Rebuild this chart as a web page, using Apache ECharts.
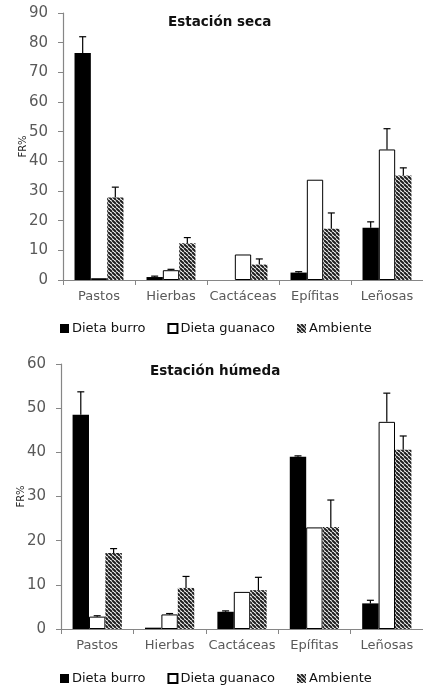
<!DOCTYPE html>
<html><head><meta charset="utf-8">
<script src="https://cdn.jsdelivr.net/npm/echarts@6/dist/echarts.min.js"></script>
<style>html,body{margin:0;padding:0;background:#fff}#c{width:423px;height:686px}</style>
</head><body><div id="c"></div>
<script>
const categories = ['Pastos', 'Hierbas', 'Cactáceas', 'Epífitas', 'Leñosas'];
const seriesNames = ['Dieta burro', 'Dieta guanaco', 'Ambiente'];
const yTicksSeca = { max: 90, interval: 10 };
const yTicksHumeda = { max: 60, interval: 10 };

// Estación seca
const burroSeca = [76.5, 1.0, 0, 2.5, 17.6];
const burroSecaErr = [5.5, 0.3, 0, 0.3, 2.0];
const guanacoSeca = [0.6, 3.3, 8.6, 33.8, 44.0];
const guanacoSecaErr = [0, 0.3, 0, 0, 7.0];
const ambienteSeca = [27.8, 12.4, 5.2, 17.3, 35.2];
const ambienteSecaErr = [3.5, 1.9, 1.9, 5.3, 2.6];

// Estación húmeda
const burroHum = [48.5, 0.3, 3.9, 39.0, 5.8];
const burroHumErr = [5.2, 0, 0.2, 0.2, 0.7];
const guanacoHum = [2.8, 3.3, 8.4, 23.0, 46.9];
const guanacoHumErr = [0.2, 0.2, 0, 0, 6.5];
const ambienteHum = [17.2, 9.3, 8.8, 23.1, 40.6];
const ambienteHumErr = [1.0, 2.6, 2.9, 6.1, 3.1];

const FONT = 'DejaVu Sans';
const AXIS_COLOR = '#868686';
const LABEL_COLOR = '#595959';
const CAT_GAP = 0.32;

function makeHatch() {
  const s = 4;
  const c = document.createElement('canvas');
  c.width = s; c.height = s;
  const g = c.getContext('2d');
  g.fillStyle = '#ffffff'; g.fillRect(0, 0, s, s);
  g.strokeStyle = '#1e1e1e'; g.lineWidth = 2;
  g.beginPath();
  for (let k = -1; k <= 1; k++) { g.moveTo(k * s, 0); g.lineTo(k * s + s, s); }
  g.stroke();
  return c;
}
const hatch = { image: makeHatch(), repeat: 'repeat' };

const styles = [
  { color: '#000000' },
  { color: '#ffffff', borderColor: '#000000', borderWidth: 1 },
  { color: hatch }
];

function errSeries(gridIdx, vals, errs, pos) {
  return {
    type: 'custom', xAxisIndex: gridIdx, yAxisIndex: gridIdx, z: 5,
    silent: true,
    data: vals.map((v, i) => [i, v, errs[i]]),
    renderItem: function (params, api) {
      const e = api.value(2);
      if (!e) return null;
      const i = api.value(0), v = api.value(1);
      const p = api.coord([i, v]);
      const t = api.coord([i, v + e]);
      const band = api.size([1, 0])[0];
      const bw = band * (1 - CAT_GAP) / 3;
      const x = p[0] + pos * bw;
      const st = { stroke: '#000', lineWidth: 1.2 };
      return { type: 'group', children: [
        { type: 'line', shape: { x1: x, y1: p[1], x2: x, y2: t[1] }, style: st },
        { type: 'line', shape: { x1: x - 3.5, y1: t[1], x2: x + 3.5, y2: t[1] }, style: st }
      ]};
    }
  };
}

function barSeries(gridIdx, idx, vals) {
  return {
    name: seriesNames[idx], type: 'bar', xAxisIndex: gridIdx, yAxisIndex: gridIdx,
    data: vals, barGap: '0%', barCategoryGap: (CAT_GAP * 100) + '%',
    itemStyle: styles[idx], emphasis: { disabled: true }
  };
}

function xAxis(gridIdx) {
  return {
    type: 'category', gridIndex: gridIdx, data: categories,
    axisLine: { lineStyle: { color: AXIS_COLOR, width: 1.2 } },
    axisTick: { show: true, length: 5, lineStyle: { color: AXIS_COLOR } },
    axisLabel: { color: LABEL_COLOR, fontFamily: FONT, fontSize: 13, margin: 10, interval: 0 },
    splitLine: { show: false }
  };
}
function yAxis(gridIdx, t) {
  return {
    type: 'value', gridIndex: gridIdx, min: 0, max: t.max, interval: t.interval,
    name: 'FR%', nameLocation: 'middle', nameRotate: 90, nameGap: 35, nameMoveOverlap: false,
    nameTextStyle: { color: '#222', fontFamily: FONT, fontSize: 10 },
    axisLine: { show: true, lineStyle: { color: AXIS_COLOR, width: 1.2 } },
    axisTick: { show: true, length: 5, lineStyle: { color: AXIS_COLOR } },
    axisLabel: { color: LABEL_COLOR, fontFamily: FONT, fontSize: 15, margin: 15 },
    splitLine: { show: false }
  };
}
function legend(top) {
  return {
    data: seriesNames, top: top, left: 55, icon: 'rect', itemWidth: 9, itemHeight: 9,
    itemGap: 22, selectedMode: false,
    textStyle: { color: '#111', fontFamily: FONT, fontSize: 13, padding: [0, 0, 0, -2] }
  };
}

const chart = echarts.init(document.getElementById('c'));
chart.setOption({
  animation: false,
  backgroundColor: '#fff',
  title: [
    { text: 'Estación seca', left: 163, top: 10, textStyle: { fontFamily: FONT, fontSize: 13.5, fontWeight: 'bold', color: '#111' } },
    { text: 'Estación húmeda', left: 145, top: 359, textStyle: { fontFamily: FONT, fontSize: 13.5, fontWeight: 'bold', color: '#111' } }
  ],
  legend: [legend(317), legend(667)],
  grid: [
    { left: 63, right: 0, top: 13, bottom: 406 },
    { left: 61, right: 0, top: 364, bottom: 57 }
  ],
  xAxis: [xAxis(0), xAxis(1)],
  yAxis: [yAxis(0, yTicksSeca), yAxis(1, yTicksHumeda)],
  series: [
    barSeries(0, 0, burroSeca), barSeries(0, 1, guanacoSeca), barSeries(0, 2, ambienteSeca),
    barSeries(1, 0, burroHum), barSeries(1, 1, guanacoHum), barSeries(1, 2, ambienteHum),
    errSeries(0, burroSeca, burroSecaErr, -1), errSeries(0, guanacoSeca, guanacoSecaErr, 0), errSeries(0, ambienteSeca, ambienteSecaErr, 1),
    errSeries(1, burroHum, burroHumErr, -1), errSeries(1, guanacoHum, guanacoHumErr, 0), errSeries(1, ambienteHum, ambienteHumErr, 1)
  ]
});
</script></body></html>
